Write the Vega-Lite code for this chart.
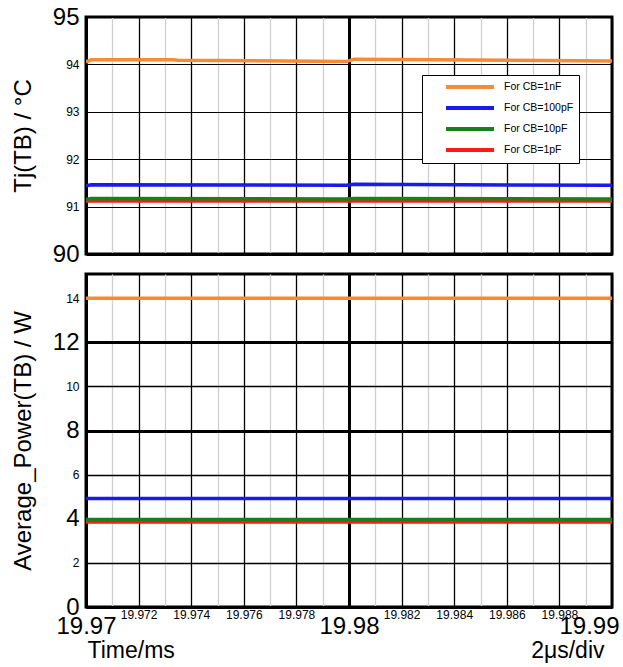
{
  "$schema": "https://vega.github.io/schema/vega-lite/v6.json",
  "padding": {"left": 9, "top": 3, "right": 0, "bottom": 0},
  "background": "white",
  "config": {
    "font": "Liberation Sans",
    "view": {"stroke": "black", "strokeWidth": 3},
    "axis": {"domainColor": "black", "domainWidth": 3, "labelColor": "black", "titleColor": "black", "titleFontWeight": "normal", "ticks": false, "gridOpacity": 1}
  },
  "datasets": {
    "series": [
      {"time": 19.97, "series": "For CB=1pF", "tj": 91.12, "power": 3.86},
      {"time": 19.99, "series": "For CB=1pF", "tj": 91.12, "power": 3.86},
      {"time": 19.97, "series": "For CB=10pF", "tj": 91.15, "power": 3.97},
      {"time": 19.9702, "series": "For CB=10pF", "tj": 91.17, "power": 3.97},
      {"time": 19.9799, "series": "For CB=10pF", "tj": 91.16, "power": 3.97},
      {"time": 19.9802, "series": "For CB=10pF", "tj": 91.17, "power": 3.97},
      {"time": 19.99, "series": "For CB=10pF", "tj": 91.16, "power": 3.97},
      {"time": 19.97, "series": "For CB=100pF", "tj": 91.44, "power": 4.92},
      {"time": 19.9702, "series": "For CB=100pF", "tj": 91.46, "power": 4.92},
      {"time": 19.9799, "series": "For CB=100pF", "tj": 91.45, "power": 4.92},
      {"time": 19.9802, "series": "For CB=100pF", "tj": 91.47, "power": 4.92},
      {"time": 19.99, "series": "For CB=100pF", "tj": 91.45, "power": 4.92},
      {"time": 19.97, "series": "For CB=1nF", "tj": 94.05, "power": 14.0},
      {"time": 19.9702, "series": "For CB=1nF", "tj": 94.1, "power": 14.0},
      {"time": 19.9733, "series": "For CB=1nF", "tj": 94.1, "power": 14.0},
      {"time": 19.9735, "series": "For CB=1nF", "tj": 94.09, "power": 14.0},
      {"time": 19.9799, "series": "For CB=1nF", "tj": 94.06, "power": 14.0},
      {"time": 19.9802, "series": "For CB=1nF", "tj": 94.11, "power": 14.0},
      {"time": 19.9833, "series": "For CB=1nF", "tj": 94.1, "power": 14.0},
      {"time": 19.99, "series": "For CB=1nF", "tj": 94.07, "power": 14.0}
    ]
  },
  "spacing": 4,
  "resolve": {"legend": {"color": "independent"}},
  "vconcat": [
    {
      "width": 526,
      "height": 237,
      "data": {"name": "series"},
      "mark": {"type": "line", "strokeWidth": 3.5, "clip": true},
      "encoding": {
        "x": {
          "field": "time", "type": "quantitative",
          "scale": {"domain": [19.97, 19.99], "nice": false, "zero": false},
          "axis": {
            "values": [19.97, 19.971, 19.972, 19.973, 19.974, 19.975, 19.976, 19.977, 19.978, 19.979, 19.98, 19.981, 19.982, 19.983, 19.984, 19.985, 19.986, 19.987, 19.988, 19.989, 19.99],
            "labels": false, "title": null, "grid": true,
            "gridColor": {"condition": {"test": "round(datum.value*1000) % 2 == 1", "value": "#d0d0d0"}, "value": "black"},
            "gridWidth": {"condition": {"test": "abs(datum.value - 19.98) < 0.00001", "value": 3}, "value": 1.3}
          }
        },
        "y": {
          "field": "tj", "type": "quantitative",
          "scale": {"domain": [90, 95], "nice": false, "zero": false},
          "axis": {
            "values": [90, 91, 92, 93, 94, 95],
            "title": "Tj(TB) / °C", "titleFontSize": 24, "titlePadding": 17,
            "grid": true, "gridColor": "black", "gridWidth": 1.2,
            "labelPadding": 7,
            "labelFontSize": {"condition": {"test": "datum.value == 90 || datum.value == 95", "value": 24}, "value": 12}
          }
        },
        "color": {
          "field": "series", "type": "nominal",
          "scale": {"domain": ["For CB=1nF", "For CB=100pF", "For CB=10pF", "For CB=1pF"], "range": ["#f88a33", "#1a1aee", "#1a7f1a", "#ff1a1a"]},
          "legend": {
            "orient": "none", "legendX": 336, "legendY": 58, "title": null,
            "fillColor": "white", "strokeColor": "black", "padding": 5,
            "symbolType": "M-4.8,0H4.8", "symbolSize": 100, "symbolStrokeWidth": 4,
            "labelFontSize": 10.5, "labelOffset": 27, "rowPadding": 5, "symbolOffset": 36,
            "labelLimit": 200
          }
        }
      }
    },
    {
      "width": 526,
      "height": 333,
      "data": {"name": "series"},
      "resolve": {"axis": {"x": "independent"}},
      "layer": [
        {
          "mark": {"type": "line", "strokeWidth": 3.5, "clip": true},
          "encoding": {
            "x": {
              "field": "time", "type": "quantitative",
              "scale": {"domain": [19.97, 19.99], "nice": false, "zero": false},
              "axis": {
                "orient": "bottom",
                "values": [19.97, 19.971, 19.972, 19.973, 19.974, 19.975, 19.976, 19.977, 19.978, 19.979, 19.98, 19.981, 19.982, 19.983, 19.984, 19.985, 19.986, 19.987, 19.988, 19.989, 19.99],
                "labelExpr": "(round(datum.value*1000) % 2 == 0 && round(datum.value*1000) % 10 != 0) ? format(datum.value, '.3f') : ''",
                "labelFontSize": 12, "labelPadding": 2, "labelFlush": false, "labelOverlap": false,
                "title": "2μs/div", "titleFontSize": 23, "titleBaseline": "alphabetic", "titleAlign": "right", "titleX": 518, "titleY": 50,
                "grid": true,
                "gridColor": {"condition": {"test": "round(datum.value*1000) % 2 == 1", "value": "#d0d0d0"}, "value": "black"},
                "gridWidth": {"condition": {"test": "abs(datum.value - 19.98) < 0.00001", "value": 3}, "value": 1.3}
              }
            },
            "y": {
              "field": "power", "type": "quantitative",
              "scale": {"domain": [0, 15.1], "nice": false},
              "axis": {
                "values": [0, 2, 4, 6, 8, 10, 12, 14],
                "title": "Average_Power(TB) / W", "titleFontSize": 24, "titlePadding": 17,
                "grid": true, "gridColor": "black",
                "gridWidth": {"condition": {"test": "datum.value % 4 == 0", "value": 3}, "value": 1.3},
                "labelPadding": 7,
                "labelFontSize": {"condition": {"test": "datum.value % 4 == 0", "value": 24}, "value": 12}
              }
            },
            "color": {"field": "series", "type": "nominal", "legend": null}
          }
        },
        {
          "mark": {"type": "line", "opacity": 0},
          "encoding": {
            "x": {
              "field": "time", "type": "quantitative",
              "scale": {"domain": [19.97, 19.99], "nice": false, "zero": false},
              "axis": {
                "orient": "bottom", "values": [19.97, 19.98, 19.99], "format": ".2f",
                "labelFontSize": 24, "labelPadding": 7, "labelFlush": false, "labelOverlap": false,
                "labelAlign": {"condition": {"test": "datum.value > 19.985", "value": "right"}, "value": "center"},
                "labelOffset": {"condition": {"test": "datum.value > 19.985", "value": 7}, "value": 0},
                "domain": false, "grid": false,
                "title": "Time/ms", "titleFontSize": 23, "titleBaseline": "alphabetic", "titleAlign": "left", "titleX": 1, "titleY": 50
              }
            },
            "y": {"field": "power", "type": "quantitative"},
            "detail": {"field": "series"}
          }
        }
      ]
    }
  ]
}
